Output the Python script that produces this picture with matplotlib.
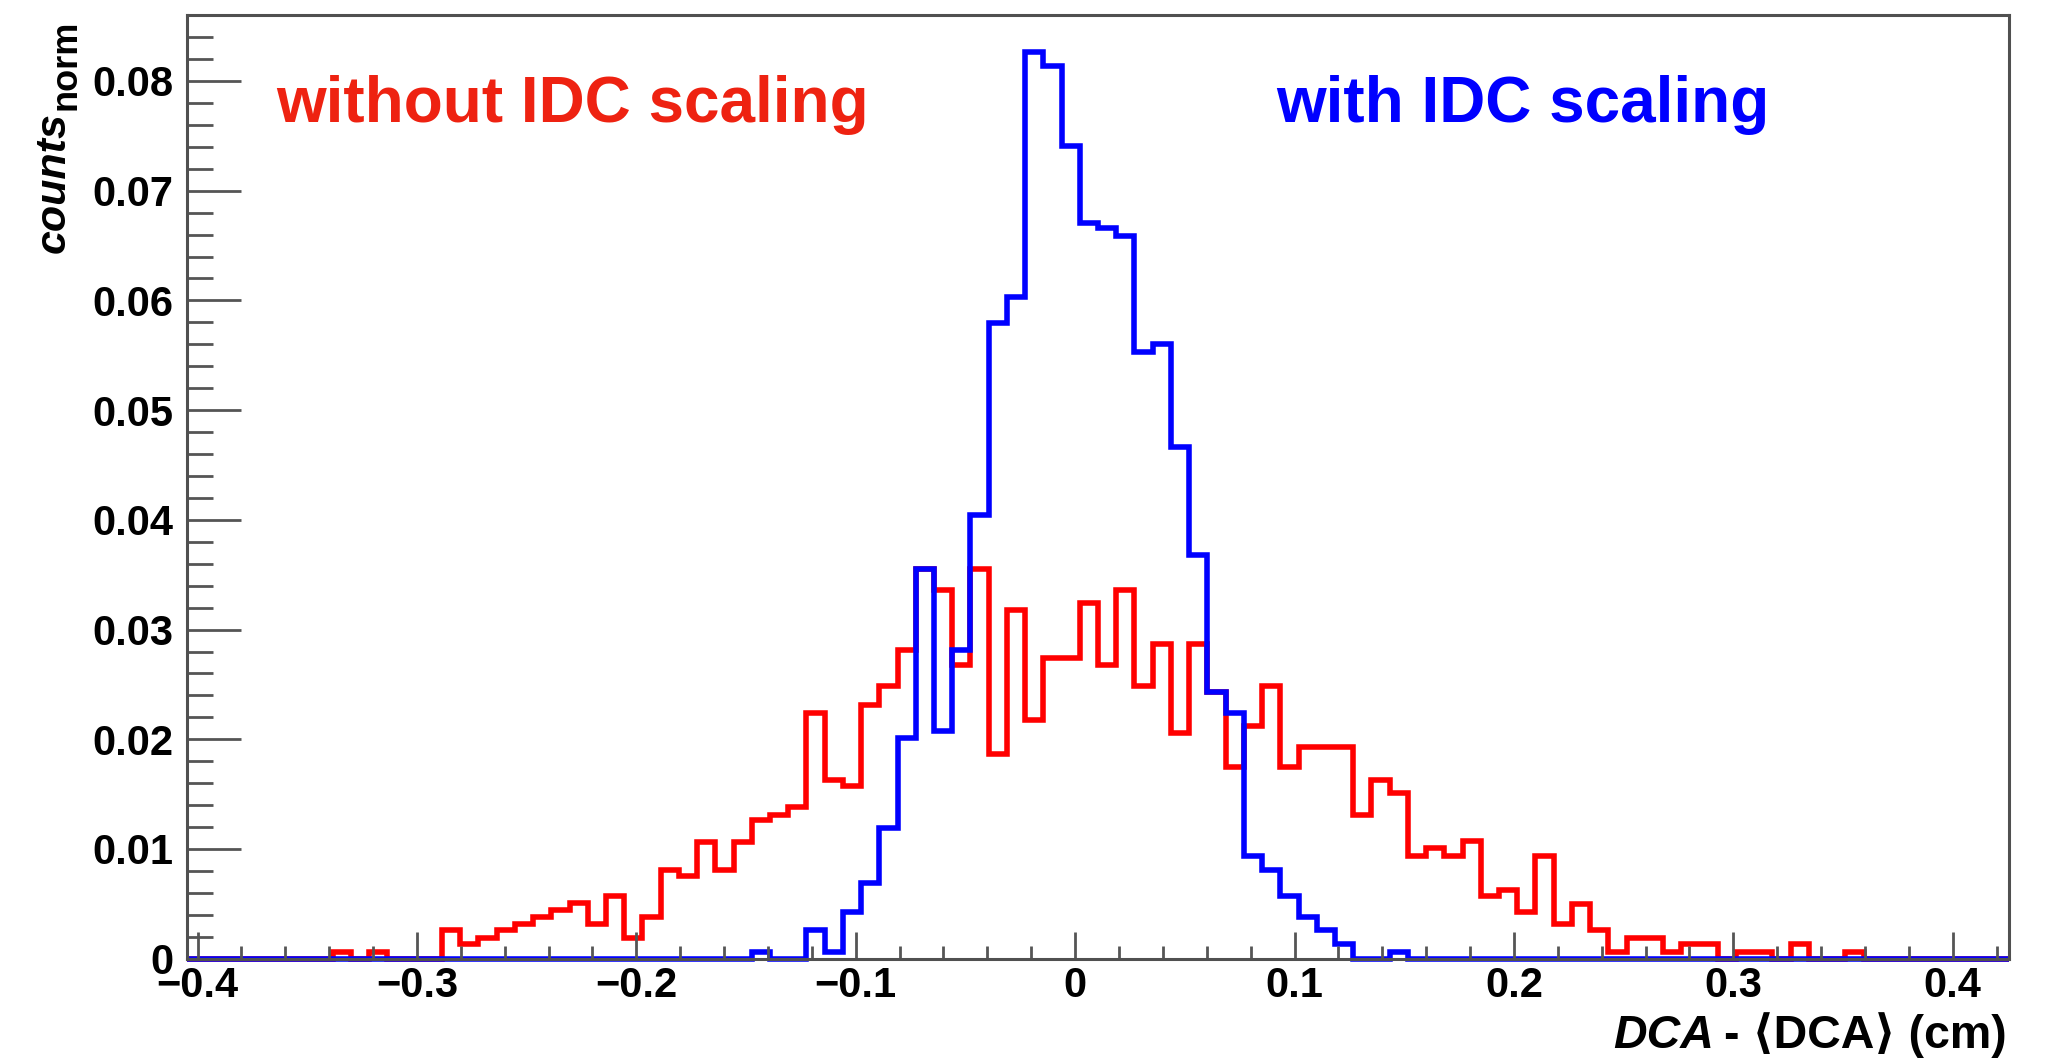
import numpy as np
import matplotlib
matplotlib.use("Agg")
from matplotlib import pyplot as plt
from matplotlib.ticker import MultipleLocator, FuncFormatter

plt.rcParams['font.family'] = ['Liberation Sans', 'DejaVu Sans']
plt.rcParams['font.weight'] = 'bold'

# 100 bins, normalised counts
edges = np.linspace(-0.4049, 0.4258, 101)

without_idc = [
    0, 0, 0, 0, 0, 0, 0, 0, 0.0006, 0,
    0.0006, 0, 0, 0, 0.0026, 0.0013, 0.0019, 0.0026, 0.0032, 0.0038,
    0.0044, 0.0051, 0.0032, 0.0057, 0.0019, 0.0038, 0.0081, 0.0075, 0.0106, 0.0081,
    0.0106, 0.0126, 0.0131, 0.0138, 0.0224, 0.0163, 0.0157, 0.0231, 0.0249, 0.0281,
    0.0355, 0.0336, 0.0268, 0.0355, 0.0187, 0.0318, 0.0218, 0.0274, 0.0274, 0.0324,
    0.0268, 0.0336, 0.0249, 0.0287, 0.0206, 0.0287, 0.0243, 0.0175, 0.0212, 0.0249,
    0.0175, 0.0193, 0.0193, 0.0193, 0.0131, 0.0163, 0.0151, 0.0094, 0.0101, 0.0094,
    0.0107, 0.0057, 0.0063, 0.0043, 0.0094, 0.0032, 0.0050, 0.0026, 0.0006, 0.0019,
    0.0019, 0.0006, 0.0013, 0.0013, 0, 0.0006, 0.0006, 0, 0.0013, 0,
    0, 0.0006, 0, 0, 0, 0, 0, 0, 0, 0,
]

with_idc = [
    0, 0, 0, 0, 0, 0, 0, 0, 0, 0,
    0, 0, 0, 0, 0, 0, 0, 0, 0, 0,
    0, 0, 0, 0, 0, 0, 0, 0, 0, 0,
    0, 0.0006, 0, 0, 0.0026, 0.0006, 0.0043, 0.0069, 0.0119, 0.0201,
    0.0355, 0.0208, 0.0281, 0.0404, 0.0579, 0.0603, 0.0826, 0.0814, 0.0741, 0.0671,
    0.0666, 0.0659, 0.0553, 0.0560, 0.0466, 0.0368, 0.0243, 0.0224, 0.0094, 0.0081,
    0.0057, 0.0038, 0.0026, 0.0013, 0, 0, 0.0006, 0, 0, 0,
    0, 0, 0, 0, 0, 0, 0, 0, 0, 0,
    0, 0, 0, 0, 0, 0, 0, 0, 0, 0,
    0, 0, 0, 0, 0, 0, 0, 0, 0, 0,
]

fig = plt.figure(figsize=(20.64, 10.59), dpi=100)
ax = fig.add_axes([0.0905, 0.0947, 0.8830, 0.8910])

ax.stairs(without_idc, edges, color='#ff0000', lw=4.0, clip_on=False)
ax.stairs(with_idc, edges, color='#0000ff', lw=4.0, clip_on=False)

ax.set_xlim(edges[0], edges[-1])
ax.set_ylim(0, 0.0860)

ax.xaxis.set_major_locator(MultipleLocator(0.1))
ax.xaxis.set_minor_locator(MultipleLocator(0.02))
ax.yaxis.set_major_locator(MultipleLocator(0.01))
ax.yaxis.set_minor_locator(MultipleLocator(0.002))


def fmt_x(v, pos):
    if abs(v) < 1e-9:
        return '0'
    return ('%.1f' % v).replace('-', '\u2212')


def fmt_y(v, pos):
    if abs(v) < 1e-9:
        return '0'
    return '%.2f' % v


ax.xaxis.set_major_formatter(FuncFormatter(fmt_x))
ax.yaxis.set_major_formatter(FuncFormatter(fmt_y))

tick_col = '#555555'
ax.tick_params(axis='both', which='both', direction='in', color=tick_col,
               width=2.0, labelsize=30, top=False, right=False)
ax.tick_params(axis='y', which='major', length=39, pad=9.9)
ax.tick_params(axis='y', which='minor', length=19)
ax.tick_params(axis='x', which='major', length=19.5, pad=5)
ax.tick_params(axis='x', which='minor', length=9.5)
for lab in ax.get_xticklabels() + ax.get_yticklabels():
    lab.set_fontweight('bold')
for sp in ax.spines.values():
    sp.set_color('#505050')
    sp.set_linewidth(2.2)

# labels inside the frame
fig.text(276 / 2064, 1 - 122.3 / 1059, 'without IDC scaling', color='#ee2211',
         fontsize=46, fontweight='bold', va='baseline', ha='left')
fig.text(1276 / 2064, 1 - 122.3 / 1059, 'with IDC scaling', color='#0000ff',
         fontsize=46, fontweight='bold', va='baseline', ha='left')

# y title: counts_norm (subscript placed by hand)
fig.text(76 / 2064, 1 - 20 / 1059, 'norm', fontsize=26, fontweight='bold',
         rotation=90, rotation_mode='anchor', ha='right', va='baseline')
fig.text(65 / 2064, 1 - 112 / 1059, 'counts', fontsize=31, fontweight='bold',
         style='italic', rotation=90, rotation_mode='anchor', ha='right', va='baseline')

# x title: italic DCA followed by upright part, right aligned to frame
xl_base = 1 - 1048 / 1059
t2 = fig.text(2007 / 2064, xl_base, '- \u27e8DCA\u27e9 (cm)', fontsize=33.5,
              fontweight='bold', ha='right', va='baseline')
fig.canvas.draw()
bb = t2.get_window_extent()
gap = 10
fig.text((bb.x0 - gap) / fig.bbox.width, xl_base, 'DCA', fontsize=33.5,
         fontweight='bold', style='italic', ha='right', va='baseline')

fig.savefig('out.png', dpi=100)
